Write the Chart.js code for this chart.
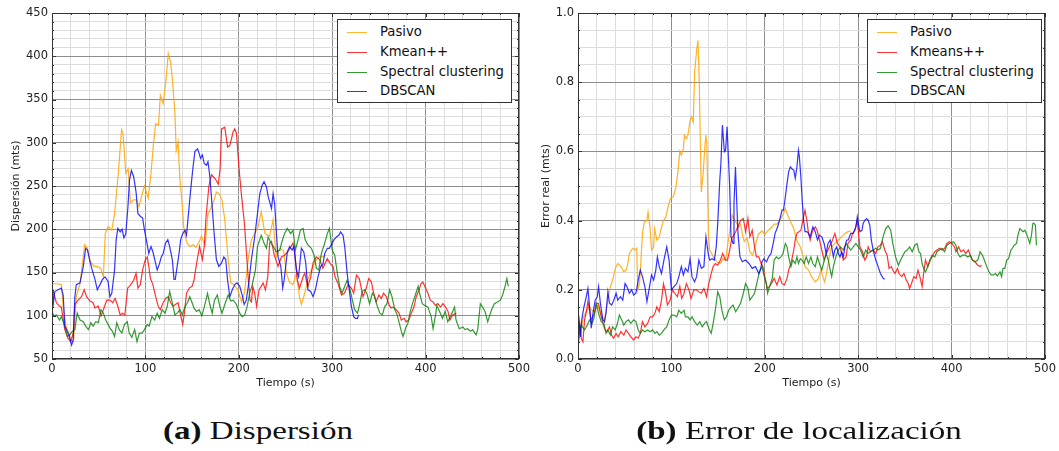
<!DOCTYPE html>
<html>
<head>
<meta charset="utf-8">
<script src="https://cdn.jsdelivr.net/npm/chart.js@4.4.1/dist/chart.umd.min.js"></script>
<style>
  body { margin: 0; background: #fff; width: 1059px; height: 451px; position: relative; overflow: hidden; font-family: "DejaVu Sans", sans-serif; }
  .panel { position: absolute; top: 0; }
  .leyenda { position: absolute; top: 19px; width: 175px; height: 84px; border: 1px solid #333; background: #fff; box-sizing: border-box; font: 13.2px "DejaVu Sans"; color: #111; }
  .fila { position: absolute; left: 0; height: 20px; line-height: 20px; width: 170px; }
  .fila span.linea { position: absolute; left: 9px; top: 10px; width: 20px; height: 1.4px; }
  .fila span.txt { position: absolute; left: 42px; white-space: nowrap; }
  .caption { position: absolute; top: 416px; width: 400px; text-align: center; font: 26px "Liberation Serif", serif; line-height: 30px; color: #111; transform: scaleX(1.27); }
</style>
</head>
<body>
<canvas id="graficoA" class="panel" style="left:0px" width="535" height="400"></canvas>
<canvas id="graficoB" class="panel" style="left:530px" width="529" height="400"></canvas>
<div class="leyenda" id="leyendaA" style="left:337px"></div>
<div class="leyenda" id="leyendaB" style="left:867px"></div>
<div class="caption" style="left:58px"><b>(a)</b> Dispersión</div>
<div class="caption" style="left:599px"><b>(b)</b> Error de localización</div>
<script>
// ---- datos (tiempo en s, valor) ----
const ticksTiempo = [0, 100, 200, 300, 400, 500];
const ticksDispersion = [50, 100, 150, 200, 250, 300, 350, 400, 450];
const ticksError = [0, 0.2, 0.4, 0.6, 0.8, 1.0];

const nombresA = ["Pasivo", "Kmean++", "Spectral clustering", "DBSCAN"];
const nombresB = ["Pasivo", "Kmeans++", "Spectral clustering", "DBSCAN"];

// Dispersión (mts)
const dispPasivo = [[0,137],[5,137],[10,136],[12,110],[15,88],[18,80],[20,72],[23,70],[26,122],[30,137],[35,182],[38,178],[41,163],[45,157],[48,157],[52,155],[55,145],[57,195],[60,203],[64,199],[67,218],[71,265],[74.5,315],[76,311],[79,265],[81.6,270],[84,230],[87,234],[90.5,234],[93,226],[96,238],[99,250],[103,236],[106,265],[108.5,297],[111,322],[114,320],[116,355],[119,345],[122,372],[124.5,403],[127,393],[129,372],[131.6,334],[133,291],[135,301],[137,257],[139,234],[141,203],[143,190],[145,183],[148,180],[151,182],[154,179],[157,184],[160,192],[162,186],[164,182],[167,218],[170,224],[173,232],[176,243],[179,241],[182,234],[185,211],[188.6,165],[191.4,138],[195,136],[199,130],[203,116],[206,126],[210,165],[213.5,188],[217,195],[220.7,203],[224,220],[228,195],[233,192],[236.7,211],[240,168],[244,178],[248,175],[251,149],[254.5,138],[258,136],[261.7,149],[265,122],[267,113],[270.6,126],[274,142],[277.7,153],[283,165],[286.6,168],[290,168],[293,170]];
const dispKmean = [[0,130],[2,126],[4.7,115],[8,111],[10,110],[13.7,84],[17,74],[20,70],[22.7,80],[24.5,113],[28,118],[31.6,122],[34.5,130],[37,122],[40.6,117],[44,115],[46,109],[49.6,111],[52.5,100],[55,107],[58.6,118],[62,118],[65,115],[67.6,120],[70.5,111],[73,101],[75.5,103],[78,101],[81,132],[83,134],[85.6,138],[87.4,141],[90,149],[92,132],[94.6,136],[97,153],[100,165],[102,168],[103.6,157],[105.4,143],[108,136],[111,122],[113.7,111],[116,107],[119,115],[121.6,120],[124.5,122],[127,115],[129.5,111],[132,113],[135,115],[137.8,100],[140,90],[142,105],[144,126],[147,132],[150,134],[152,141],[154,155],[156,168],[158,180],[161,165],[163,180],[165,215],[168,250],[170.8,263],[172.5,261],[175,258],[178,252],[180,270],[181.5,316],[185,318],[188,295],[190.4,297],[194,313],[195.7,316],[197.5,311],[199,288],[201,261],[203,238],[206,207],[208,176],[210,145],[212,118],[213.5,116],[215,134],[217,126],[219,111],[221.7,130],[224,134],[226,138],[228.5,130],[231,145],[233,184],[235,186],[238,170],[242,157],[245.6,168],[249,170],[252.7,174],[256,180],[258,184],[260,172],[262.7,141],[265,132],[268.8,145],[270.6,149],[274,134],[277,145],[279.5,161],[283,168],[286.6,165],[290,155],[294.8,166],[298,160],[301,157],[303,145],[306,138],[310,124],[313,126],[317,136],[320.5,132],[323,126],[326,147],[329,143],[333,122],[336.5,132],[339,143],[342,139],[344,128],[347,116],[350,124],[352.6,120],[355,126],[358,122],[361,112],[363,109],[365,110],[368.6,107],[371.5,103],[374,95],[377,97],[379,93],[382,95],[384.7,103],[387.5,110],[390,122],[393,130],[395,137],[397,139],[400,132],[402.5,126],[405,118],[408,116],[410.5,112],[413,114],[416,110],[418.5,114],[421.4,110],[424,105],[426,95],[429,101],[433,103]];
const dispSpectral = [[0,105],[2,100],[4.7,101],[8,95],[10,99],[13.7,88],[16.5,76],[19,78],[21.6,82],[24.5,84],[27,103],[30,95],[33.5,93],[36,88],[39,84],[41.7,92],[44,88],[46.8,93],[49.6,92],[52.5,107],[55,103],[57.5,95],[60,90],[62,86],[64.7,82],[67,76],[69.4,92],[72,84],[74.8,80],[77.7,90],[80.6,93],[82.7,80],[85.5,75],[88.5,84],[91,70],[93.5,80],[96.4,80],[99,84],[102,90],[104,88],[107,99],[110,95],[112.6,103],[115,97],[118,107],[121,103],[123.4,111],[126,128],[128.8,115],[131.6,101],[134,103],[137,107],[139.6,101],[142.5,111],[145,115],[147.5,122],[150,115],[152,109],[154.7,105],[157.5,107],[160.4,100],[163,110],[166.5,126],[169,113],[171.5,103],[174,118],[177,124],[179.7,111],[182,103],[185,113],[188.6,124],[191.4,117],[194,118],[197.5,113],[201,103],[203.6,99],[206.4,101],[209,111],[212,128],[214,134],[217.8,153],[220,180],[224,193],[227,184],[229.6,178],[231.4,191],[234,185],[237,180],[240,174],[244,176],[246,185],[249,195],[252,201],[255.6,195],[258,199],[260.6,176],[263.5,188],[266,199],[268.8,201],[271,188],[274,182],[277.7,178],[280.6,170],[283,155],[285.6,153],[288.4,172],[292,184],[294.8,195],[297,201],[300,176],[302.7,170],[305.5,149],[308,134],[310.5,126],[313.4,134],[316,141],[318.7,132],[321.6,118],[324,107],[327,103],[329,111],[332,128],[334.8,130],[337,126],[340,114],[343,126],[345.5,122],[348,112],[351,103],[353.7,101],[356,110],[358.6,114],[361.5,130],[364,122],[367,107],[369,103],[371.5,93],[374,82],[375.8,76],[379,87],[381,91],[383.6,105],[386.5,116],[389,124],[392,134],[393.6,126],[396.4,114],[399,112],[402.5,110],[406,99],[408,85],[410.7,101],[412,112],[415,105],[418,97],[421,105],[423.7,93],[426.5,99],[429,105],[431,110],[432.6,95],[436,85],[440,87],[442,84],[445,85],[448,82],[450.4,84],[454,78],[455.8,84],[458.6,114],[461,110],[463.6,105],[466.5,93],[468.2,99],[470.7,107],[473.6,114],[477,116],[480,118],[482.5,124],[485,134],[487,143],[488.5,134]];
const dispDbscan = [[0,130],[1,110],[3,128],[6.5,130],[10,132],[12,124],[13.7,88],[15.5,84],[18,78],[21,66],[22.7,72],[24.5,122],[26,136],[30,138],[33.5,157],[36,178],[38,176],[40.6,163],[43,153],[46,142],[48.5,130],[51.4,136],[54,142],[56.8,145],[60,140],[62,122],[64,126],[67,153],[68.7,188],[70.5,201],[73,197],[75,200],[77,190],[79,195],[81.3,226],[83,257],[85,268],[87.4,261],[90,243],[92,218],[94.6,215],[97,213],[99,199],[101,188],[103.6,172],[106,180],[108,174],[110,165],[112.6,153],[115,160],[117,168],[119,172],[121.6,184],[124,188],[126,180],[128.8,165],[130.6,142],[132,142],[134,157],[136,172],[137.8,188],[140,195],[142.4,199],[144,193],[146.8,226],[148.6,247],[151,272],[153,290],[155.8,293],[157.5,288],[159,282],[161,286],[163,276],[165.4,274],[167,278],[169,261],[171.5,226],[173.6,195],[176,165],[178.6,157],[181.5,161],[184,168],[186,165],[188,141],[190.4,122],[193,130],[195.7,136],[198,138],[201,134],[203.6,124],[205.7,113],[208,118],[210.7,138],[213.5,165],[217,191],[220,218],[222.5,241],[225,251],[227,255],[229.6,249],[231.4,238],[233,232],[235,224],[236.7,241],[238.5,228],[240.3,195],[242,168],[245,157],[247,132],[248.5,141],[252,174],[254.5,180],[257,176],[259,180],[261.7,153],[264,145],[267,178],[269.5,174],[271.7,161],[274,130],[277,128],[279.5,122],[282,130],[284.8,145],[287.7,157],[290,159],[292,172],[294.8,178],[297,178],[299,182],[302,188],[304.5,191],[307,193],[309,197],[311.6,193],[313.4,180],[316,149],[318.7,126],[320.5,111],[323,99],[324.8,97],[327,97],[328.3,101]];

// Error real (mts)
const errPasivo = [[0,0.05],[3,0.09],[6,0.12],[9,0.14],[12,0.15],[15,0.14],[17.7,0.137],[21,0.156],[25,0.127],[28,0.11],[30,0.14],[32,0.17],[33.7,0.2],[37,0.228],[40,0.262],[42.5,0.276],[46,0.267],[49,0.252],[51.4,0.257],[53,0.271],[55,0.305],[58.5,0.32],[61,0.315],[62.8,0.32],[64,0.2],[66,0.22],[69,0.363],[71,0.397],[73.8,0.4],[75,0.425],[77,0.382],[78.7,0.315],[81,0.324],[82,0.377],[84.4,0.344],[87,0.353],[89,0.377],[91.5,0.4],[94,0.41],[96.5,0.44],[99,0.464],[102,0.469],[104.6,0.493],[107,0.541],[109,0.6],[110.6,0.589],[112.8,0.608],[114,0.647],[116,0.637],[117.7,0.647],[120,0.69],[121.6,0.7],[123.4,0.685],[125,0.834],[127,0.892],[128.4,0.921],[129.8,0.806],[131,0.623],[132,0.483],[134,0.536],[135.8,0.613],[137,0.647],[138,0.613],[139.7,0.353],[141,0.315],[143,0.305],[146,0.29],[149,0.28],[152.5,0.276],[155,0.29],[158,0.286],[161,0.344],[165,0.416],[168,0.4],[170,0.392],[172,0.38],[174,0.39],[176,0.36],[178,0.34],[181,0.35],[184,0.31],[187,0.3],[190,0.33],[193,0.36],[197,0.37],[200,0.36],[203,0.37],[207,0.38],[210,0.39],[213,0.39],[216,0.4],[219,0.415],[222,0.435],[224.5,0.416],[227,0.4],[231,0.377],[234,0.344],[238,0.324],[241,0.295],[243,0.267],[247,0.257],[250,0.238],[254,0.223],[257.4,0.233],[260,0.257],[262,0.238],[264,0.223],[266,0.247],[269,0.295],[271.6,0.324],[275,0.334],[278.7,0.344],[282,0.353],[286,0.363],[289,0.368],[292,0.37]];
const errKmeans = [[0,0.05],[2,0.1],[3.5,0.06],[5.3,0.05],[7,0.113],[9,0.137],[10.6,0.166],[12.4,0.141],[14,0.113],[17.7,0.132],[19.5,0.161],[22,0.161],[24,0.132],[26.6,0.103],[29,0.084],[31,0.079],[33.7,0.093],[36,0.069],[38,0.06],[40.8,0.074],[43,0.064],[46,0.079],[49,0.069],[51.4,0.084],[54,0.074],[56.7,0.064],[59.6,0.055],[62,0.064],[64.5,0.06],[66.7,0.074],[69,0.108],[71.6,0.093],[74.5,0.103],[77.3,0.122],[79.8,0.122],[82.3,0.132],[84.4,0.151],[87,0.137],[89.4,0.17],[91.5,0.218],[93.6,0.194],[95.7,0.156],[98.6,0.17],[101,0.2],[103.5,0.19],[106.4,0.18],[109,0.21],[111,0.175],[113.5,0.19],[116,0.218],[118.8,0.2],[121,0.175],[124,0.2],[126.6,0.2],[129.4,0.194],[132,0.19],[134.8,0.204],[137.6,0.18],[140,0.218],[142.6,0.247],[144.7,0.267],[147,0.276],[149.6,0.271],[152.5,0.286],[155,0.305],[157.8,0.286],[160,0.286],[162.4,0.315],[165,0.353],[166,0.353],[168.8,0.368],[171,0.382],[174,0.4],[177,0.406],[179.4,0.368],[181.9,0.406],[184,0.353],[186.5,0.372],[189,0.324],[191,0.295],[193.6,0.295],[196,0.276],[198,0.267],[200.7,0.228],[202.5,0.204],[205,0.209],[208,0.223],[210,0.233],[213,0.214],[216,0.238],[218.4,0.218],[221,0.214],[223.8,0.233],[225.5,0.257],[228,0.276],[231,0.315],[232.6,0.344],[234.4,0.363],[238.6,0.372],[241.5,0.411],[243,0.43],[245,0.4],[246.8,0.363],[248.6,0.344],[251,0.37],[254,0.382],[256,0.372],[258.5,0.344],[261,0.315],[263.5,0.286],[266,0.305],[269,0.324],[272,0.34],[275,0.363],[277.7,0.334],[280.5,0.324],[284,0.286],[287,0.295],[289,0.334],[292,0.344],[294,0.363],[296.5,0.372],[299,0.4],[301.8,0.324],[304.6,0.31],[307,0.286],[309,0.295],[310.6,0.324],[313,0.31],[316,0.315],[318.8,0.305],[321,0.324],[323.8,0.329],[326,0.339],[328.4,0.315],[331,0.3],[333,0.262],[335.5,0.267],[337,0.257],[339.4,0.247],[342,0.262],[343.6,0.247],[346.5,0.238],[349,0.247],[351.4,0.228],[353.5,0.218],[355,0.204],[357,0.218],[359.6,0.238],[362,0.233],[364,0.257],[366,0.238],[368.4,0.209],[370,0.247],[372,0.286],[374.5,0.267],[376.6,0.286],[379,0.295],[382,0.31],[384.4,0.315],[387,0.32],[389.7,0.315],[392.5,0.32],[395,0.334],[397.5,0.339],[400.4,0.334],[403,0.324],[404.6,0.31],[407.4,0.324],[410,0.31],[412.8,0.315],[415,0.305],[418,0.315],[420,0.3],[422.3,0.286],[425,0.281],[428,0.271],[430.5,0.267],[432,0.271]];
const errSpectral = [[0,0.03],[1.8,0.084],[3.5,0.098],[7,0.084],[10,0.098],[12.4,0.113],[14.9,0.103],[17,0.117],[19.5,0.161],[22,0.132],[24.8,0.108],[27.7,0.103],[30,0.074],[32,0.084],[34.7,0.069],[37,0.093],[39.7,0.084],[41.8,0.098],[44.3,0.127],[46.8,0.113],[49,0.098],[51.4,0.108],[54,0.113],[56.7,0.103],[59.6,0.113],[62,0.108],[64.5,0.084],[66.7,0.074],[69,0.084],[71.6,0.079],[74.5,0.084],[77.3,0.079],[79.8,0.084],[82.3,0.074],[84.4,0.079],[87,0.069],[89.4,0.074],[92,0.084],[95,0.093],[97.5,0.113],[100,0.127],[102.8,0.127],[105.7,0.122],[108,0.141],[110.6,0.132],[113.5,0.141],[115,0.122],[117.7,0.122],[120,0.113],[122,0.122],[124.8,0.108],[127.7,0.098],[130.5,0.108],[133,0.093],[135.5,0.103],[137.6,0.108],[140,0.089],[142.6,0.074],[144.7,0.103],[147,0.141],[149.6,0.194],[151.8,0.18],[154,0.141],[156.7,0.113],[159,0.122],[161.3,0.141],[163.8,0.15],[166,0.156],[168.8,0.137],[171,0.146],[174,0.161],[177,0.19],[179.4,0.218],[182,0.204],[184,0.17],[186.5,0.18],[189,0.19],[191.8,0.223],[194.7,0.257],[197,0.267],[199,0.243],[201.8,0.218],[203,0.19],[205,0.209],[208,0.233],[210,0.286],[212.4,0.295],[215,0.29],[217.4,0.295],[219.5,0.305],[222,0.334],[223.8,0.324],[225.5,0.295],[228,0.267],[230,0.286],[232.6,0.276],[234.4,0.295],[236,0.276],[238,0.29],[239.7,0.286],[242,0.276],[244.3,0.295],[246.8,0.276],[249.3,0.295],[251.4,0.276],[254,0.267],[256.4,0.295],[258.5,0.276],[261,0.257],[262.8,0.276],[265.6,0.305],[268,0.286],[270,0.257],[271.6,0.238],[273.4,0.267],[276,0.295],[278.7,0.315],[281,0.324],[284,0.315],[287,0.334],[289.4,0.324],[292,0.315],[294.7,0.324],[297.5,0.334],[300,0.324],[302.5,0.315],[305.3,0.295],[308,0.315],[310.6,0.305],[313,0.31],[316,0.315],[318.8,0.32],[321.3,0.315],[323.8,0.32],[326.6,0.353],[329.4,0.377],[332,0.385],[334.8,0.372],[337,0.334],[340,0.295],[343,0.271],[345.4,0.286],[348,0.3],[350,0.31],[352.5,0.315],[355,0.324],[357.8,0.31],[360.6,0.329],[363,0.334],[364.9,0.31],[366.7,0.305],[368.4,0.276],[370,0.262],[372,0.252],[374.5,0.267],[376.6,0.281],[379,0.3],[382,0.295],[384.4,0.31],[387,0.315],[389.7,0.32],[392.5,0.31],[395,0.329],[397.5,0.334],[399.6,0.336],[402,0.339],[404.6,0.329],[406.7,0.305],[409,0.295],[411.7,0.3],[414.5,0.3],[417.4,0.295],[420,0.3],[422.3,0.286],[425,0.281],[428,0.286],[430.5,0.31],[433,0.3],[435,0.286],[437.6,0.267],[440,0.252],[442.2,0.243],[444.7,0.243],[447,0.247],[449,0.24],[451.8,0.252],[453.5,0.238],[455,0.262],[457,0.262],[458.9,0.286],[461,0.29],[463.5,0.315],[465,0.32],[467,0.329],[469.5,0.334],[471,0.358],[473,0.377],[474.8,0.372],[476.6,0.368],[478.4,0.372],[480,0.363],[482,0.348],[483.7,0.334],[485.5,0.358],[487,0.392],[488.3,0.392],[489.7,0.387],[490.8,0.329]];
const errDbscan = [[0,0.12],[0.7,0.127],[2.8,0.064],[4,0.113],[6.4,0.151],[8.9,0.18],[10.6,0.204],[12.4,0.151],[14.2,0.089],[16,0.132],[18.4,0.17],[20.6,0.18],[22,0.209],[24,0.161],[26.6,0.113],[28.4,0.108],[30,0.132],[32,0.194],[33.7,0.161],[36,0.156],[38.3,0.17],[40.8,0.19],[42.5,0.17],[45.4,0.18],[47.9,0.17],[50.4,0.218],[52.5,0.209],[55,0.19],[57.4,0.2],[59.6,0.185],[62,0.19],[64.5,0.228],[66.7,0.257],[69,0.238],[71.6,0.209],[73.8,0.166],[76,0.2],[78.7,0.243],[81,0.228],[83.3,0.257],[85,0.295],[87,0.267],[89.4,0.247],[92,0.286],[95,0.324],[97.5,0.286],[100,0.2],[102.8,0.209],[105.7,0.218],[108,0.238],[110.6,0.267],[112.8,0.243],[115,0.262],[117.7,0.252],[120,0.29],[122,0.238],[124.8,0.223],[127,0.238],[129.4,0.286],[132,0.262],[134.8,0.267],[137,0.353],[139.4,0.305],[141,0.286],[143.6,0.29],[146,0.286],[148,0.324],[149.6,0.392],[151.8,0.517],[153,0.565],[154.6,0.676],[156.7,0.599],[158,0.603],[159.6,0.671],[161,0.584],[162.4,0.498],[163.8,0.353],[166,0.334],[167,0.45],[168.6,0.555],[170,0.45],[171.3,0.363],[173.4,0.295],[176,0.281],[179.4,0.286],[183,0.276],[186.5,0.262],[190,0.267],[193.6,0.247],[195.4,0.257],[197,0.281],[199,0.29],[201.8,0.281],[204,0.295],[206.7,0.305],[209,0.334],[211,0.363],[213.8,0.382],[216.7,0.411],[218.4,0.43],[220,0.43],[222,0.469],[223.8,0.507],[225.5,0.541],[227.3,0.555],[229,0.55],[231,0.546],[232.6,0.522],[234.4,0.555],[236,0.603],[237,0.584],[238.6,0.526],[240,0.459],[241.5,0.401],[243,0.368],[245,0.368],[246.8,0.363],[248.6,0.353],[251.4,0.382],[254,0.368],[256.4,0.344],[258.5,0.358],[261,0.353],[263.5,0.334],[265.6,0.305],[267.7,0.334],[270,0.344],[271.6,0.324],[273.4,0.295],[275,0.315],[277,0.324],[278.7,0.305],[280.5,0.295],[282.3,0.31],[284,0.295],[285.8,0.324],[287.6,0.344],[289.4,0.344],[292,0.363],[294.7,0.363],[297.5,0.382],[299,0.411],[300.4,0.387],[301.8,0.368],[304,0.372],[305.3,0.392],[307,0.401],[309,0.406],[310.6,0.401],[312.4,0.387],[314,0.344],[316,0.315],[318.8,0.286],[321.3,0.267],[323.8,0.247],[326.6,0.233],[328.4,0.231]];

const colores = ["rgba(255,165,0,0.85)", "rgba(255,0,0,0.8)", "rgba(0,128,0,0.8)", "rgba(0,0,255,0.8)"];
const coloresLeyenda = ["#ffb733", "#ff3333", "#339933", "#3333ff"];

// ---- helpers ----
function aPuntos(serie) {
  return serie.map(function (p) { return { x: p[0], y: p[1] }; });
}
function esMayor(v, lista) {
  return lista.some(function (t) { return Math.abs(t - v) < 1e-6; });
}

// marco negro + marcas de ticks hacia adentro (estilo matplotlib)
const marcoPlugin = {
  id: "marco",
  afterDraw(chart) {
    const { ctx, chartArea: a, scales } = chart;
    const mx = chart.options.plugins.marco;
    ctx.save();
    ctx.strokeStyle = "#333";
    ctx.lineWidth = 1;
    ctx.beginPath();
    scales.x.ticks.forEach(function (t) {
      const px = Math.round(scales.x.getPixelForValue(t.value)) + 0.5;
      const l = esMayor(t.value, mx.x) ? 4 : 2;
      ctx.moveTo(px, a.bottom); ctx.lineTo(px, a.bottom - l);
      ctx.moveTo(px, a.top); ctx.lineTo(px, a.top + l);
    });
    scales.y.ticks.forEach(function (t) {
      const py = Math.round(scales.y.getPixelForValue(t.value)) + 0.5;
      const l = esMayor(t.value, mx.y) ? 4 : 2;
      ctx.moveTo(a.left, py); ctx.lineTo(a.left + l, py);
      ctx.moveTo(a.right, py); ctx.lineTo(a.right - l, py);
    });
    ctx.stroke();
    ctx.strokeRect(Math.round(a.left) + 0.5, Math.round(a.top) + 0.5, Math.round(a.right - a.left) - 1, Math.round(a.bottom - a.top) - 1);
    ctx.restore();
  },
};

function crearGrafico(id, series, nombres, ejeY, anchoY, padDer) {
  const datasets = series.map(function (s, i) {
    return {
      label: nombres[i],
      data: aPuntos(s),
      borderColor: colores[i],
      borderWidth: 1.2,
      pointRadius: 0,
      tension: 0,
      fill: false,
      order: 3 - i,
    };
  });
  return new Chart(document.getElementById(id), {
    type: "line",
    data: { datasets: datasets },
    plugins: [marcoPlugin],
    options: {
      responsive: false,
      animation: false,
      devicePixelRatio: 1,
      layout: { padding: { top: 13, right: padDer, bottom: 6, left: 0 } },
      plugins: {
        legend: { display: false },
        tooltip: { enabled: false },
        marco: { x: ticksTiempo, y: ejeY.mayores },
      },
      scales: {
        x: {
          type: "linear",
          min: 0,
          max: 500,
          border: { display: false },
          grid: {
            drawTicks: false,
            lineWidth: 1,
            color: function (c) { return esMayor(c.tick.value, ticksTiempo) ? "#8e8e8e" : "#dcdcdc"; },
          },
          ticks: {
            stepSize: 20,
            autoSkip: false,
            maxRotation: 0,
            padding: 3,
            color: "#222",
            font: { family: "DejaVu Sans", size: 11.5 },
            callback: function (v) { return esMayor(v, ticksTiempo) ? String(v) : ""; },
          },
          title: { display: true, text: "Tiempo (s)", color: "#222", font: { family: "DejaVu Sans", size: 11 }, padding: { top: 0, bottom: 4 } },
          afterFit: function (s) { s.height = 35; },
        },
        y: {
          type: "linear",
          min: ejeY.min,
          max: ejeY.max,
          border: { display: false },
          grid: {
            drawTicks: false,
            lineWidth: 1,
            color: function (c) { return esMayor(c.tick.value, ejeY.mayores) ? "#8e8e8e" : "#dcdcdc"; },
          },
          ticks: {
            stepSize: ejeY.paso,
            autoSkip: false,
            padding: 4,
            color: "#222",
            font: { family: "DejaVu Sans", size: 11.5 },
            callback: function (v) { return esMayor(v, ejeY.mayores) ? ejeY.formato(v) : ""; },
          },
          title: { display: true, text: ejeY.titulo, color: "#222", font: { family: "DejaVu Sans", size: 11 }, padding: { top: 10, bottom: 0 } },
          afterFit: function (s) { s.width = anchoY; },
        },
      },
    },
  });
}

function llenarLeyenda(id, nombres) {
  const caja = document.getElementById(id);
  const centros = [12, 32, 52, 71];
  nombres.forEach(function (n, i) {
    const fila = document.createElement("div");
    fila.className = "fila";
    fila.style.top = (centros[i] - 10) + "px";
    const linea = document.createElement("span");
    linea.className = "linea";
    linea.style.background = coloresLeyenda[i];
    const txt = document.createElement("span");
    txt.className = "txt";
    txt.textContent = n;
    fila.appendChild(linea);
    fila.appendChild(txt);
    caja.appendChild(fila);
  });
}

crearGrafico("graficoA", [dispPasivo, dispKmean, dispSpectral, dispDbscan], nombresA,
  { min: 50, max: 450, paso: 10, mayores: ticksDispersion, titulo: "Dispersión (mts)", formato: function (v) { return String(v); } }, 52, 16);
crearGrafico("graficoB", [errPasivo, errKmeans, errSpectral, errDbscan], nombresB,
  { min: 0, max: 1, paso: 0.05, mayores: ticksError, titulo: "Error real (mts)", formato: function (v) { return v.toFixed(1); } }, 48, 11);

llenarLeyenda("leyendaA", nombresA);
llenarLeyenda("leyendaB", nombresB);
</script>
</body>
</html>
